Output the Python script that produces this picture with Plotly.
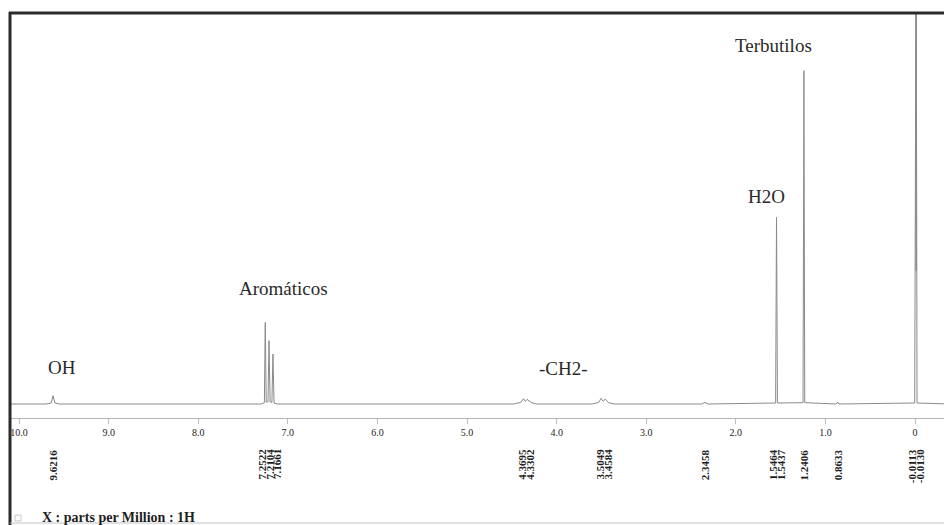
import plotly.graph_objects as go

# ---------------- data ----------------
# spectrum polyline: chemical shift (ppm) and relative intensity (Terbutilos = 100)
spectrum_ppm = [10.09, 9.70, 9.64, 9.6216, 9.60, 9.55,
                7.30, 7.262, 7.2522, 7.242, 7.222, 7.2104, 7.198, 7.178, 7.1661, 7.154, 7.12,
                4.48, 4.40, 4.3695, 4.35, 4.3302, 4.28, 4.22,
                3.60, 3.53, 3.5049, 3.48, 3.4584, 3.42, 3.36,
                2.38, 2.3458, 2.31,
                1.556, 1.5464, 1.545, 1.5437, 1.536,
                1.250, 1.2406, 1.231,
                0.88, 0.8633, 0.85,
                0.004, -0.0113, -0.0122, -0.0130, -0.022, -0.39]
spectrum_int = [0.0, 0.0, 0.3, 2.5, 0.3, 0.0,
                0.0, 0.4, 24.5, 0.6, 0.6, 19.0, 0.6, 0.5, 15.0, 0.3, 0.0,
                0.0, 0.5, 1.6, 0.8, 1.4, 0.4, 0.0,
                0.0, 0.5, 1.7, 0.8, 1.5, 0.4, 0.0,
                0.0, 0.5, 0.0,
                0.3, 56.0, 20.0, 45.0, 0.3,
                0.4, 100.0, 0.4,
                0.0, 0.6, 0.0,
                0.3, 135.0, 40.0, 135.0, 0.3, 0.0]

tick_vals = [10, 9, 8, 7, 6, 5, 4, 3, 2, 1, 0]
tick_text = ["10.0", "9.0", "8.0", "7.0", "6.0", "5.0", "4.0", "3.0", "2.0", "1.0", "0"]

# peak-picking labels, grouped by cluster
peak_groups = [
    ["9.6216"],
    ["7.2522", "7.2104", "7.1661"],
    ["4.3695", "4.3302"],
    ["3.5049", "3.4584"],
    ["2.3458"],
    ["1.5464", "1.5437"],
    ["1.2406"],
    ["0.8633"],
    ["-0.0113", "-0.0130"],
]

group_labels = ["OH", "Aromáticos", "-CH2-", "H2O", "Terbutilos"]
axis_title = "X : parts per Million : 1H"

# ---------------- layout helpers ----------------
# the page body adds an 8 px margin, so the figure is drawn 8 px smaller and
# reference pixel positions are shifted by that offset
OFF = 8
W, H = 952 - OFF, 525 - OFF


def px(xp):
    return (xp - OFF) / W


def py(yp):
    return (H - (yp - OFF)) / H


fig = go.Figure()
fig.add_trace(go.Scatter(
    x=spectrum_ppm, y=spectrum_int, mode="lines",
    line=dict(color="#8a8a8a", width=1),
    hoverinfo="skip", showlegend=False,
))

serif = "Liberation Serif, DejaVu Serif, serif"
label_font = dict(family=serif, size=19, color="#2a2a2a")
group_pos = [(62, 367), (283, 288), (563, 369), (766, 196), (773, 45)]
annotations = []
for txt, (gx, gy) in zip(group_labels, group_pos):
    annotations.append(dict(text=txt, x=px(gx), y=py(gy), xref="paper", yref="paper",
                            showarrow=False, xanchor="center", yanchor="middle", font=label_font))

pk_font = dict(family=serif, size=11, color="#1e1e1e")
for grp in peak_groups:
    vals = [float(v) for v in grp]
    center = sum(vals) / len(vals)
    n = len(grp)
    for i, t in enumerate(grp):
        annotations.append(dict(text="<b>%s</b>" % t, x=center, y=py(447), xref="x", yref="paper",
                                showarrow=False, textangle=-90, xanchor="center", yanchor="top",
                                xshift=(i - (n - 1) / 2) * 8, font=pk_font))

annotations.append(dict(text="<b>%s</b>" % axis_title, x=px(40), y=py(517), xref="paper", yref="paper",
                        showarrow=False, xanchor="left", yanchor="middle",
                        font=dict(family=serif, size=14, color="#1e1e1e")))

shapes = [
    # thick left and top frame lines of the scanned page
    dict(type="line", xref="paper", yref="paper", x0=px(10), x1=px(10), y0=py(12), y1=py(525),
         line=dict(color="#2b2b2b", width=3)),
    dict(type="line", xref="paper", yref="paper", x0=px(9), x1=px(952), y0=py(13), y1=py(13),
         line=dict(color="#2b2b2b", width=3)),
    dict(type="line", xref="paper", yref="paper", x0=px(10), x1=px(952), y0=py(523), y1=py(523),
         line=dict(color="#c4c4c4", width=1)),
    # small box glyph at the lower left
    dict(type="rect", xref="paper", yref="paper", x0=px(15), x1=px(21), y0=py(521), y1=py(515),
         line=dict(color="#c8c8c8", width=1)),
]

fig.update_layout(
    width=W, height=H,
    margin=dict(l=0, r=0, t=0, b=0),
    paper_bgcolor="white", plot_bgcolor="white",
    showlegend=False,
    annotations=annotations,
    shapes=shapes,
    xaxis=dict(
        domain=[px(11), px(950)],
        range=[10.09, -0.39],
        tickvals=tick_vals, ticktext=tick_text,
        tickfont=dict(family=serif, size=10, color="#222222"),
        ticks="outside", ticklen=5, tickcolor="#c0c0c0", tickwidth=1,
        showline=True, linecolor="#b5b5b5", linewidth=1,
        showgrid=False, zeroline=False,
        tickprefix="<b>", ticksuffix="</b>",
        ticklabeloverflow="allow",
    ),
    yaxis=dict(
        domain=[py(418), py(14)],
        range=[-4.2, 117],
        visible=False, showgrid=False, zeroline=False,
    ),
)

fig.write_html("out.html")
